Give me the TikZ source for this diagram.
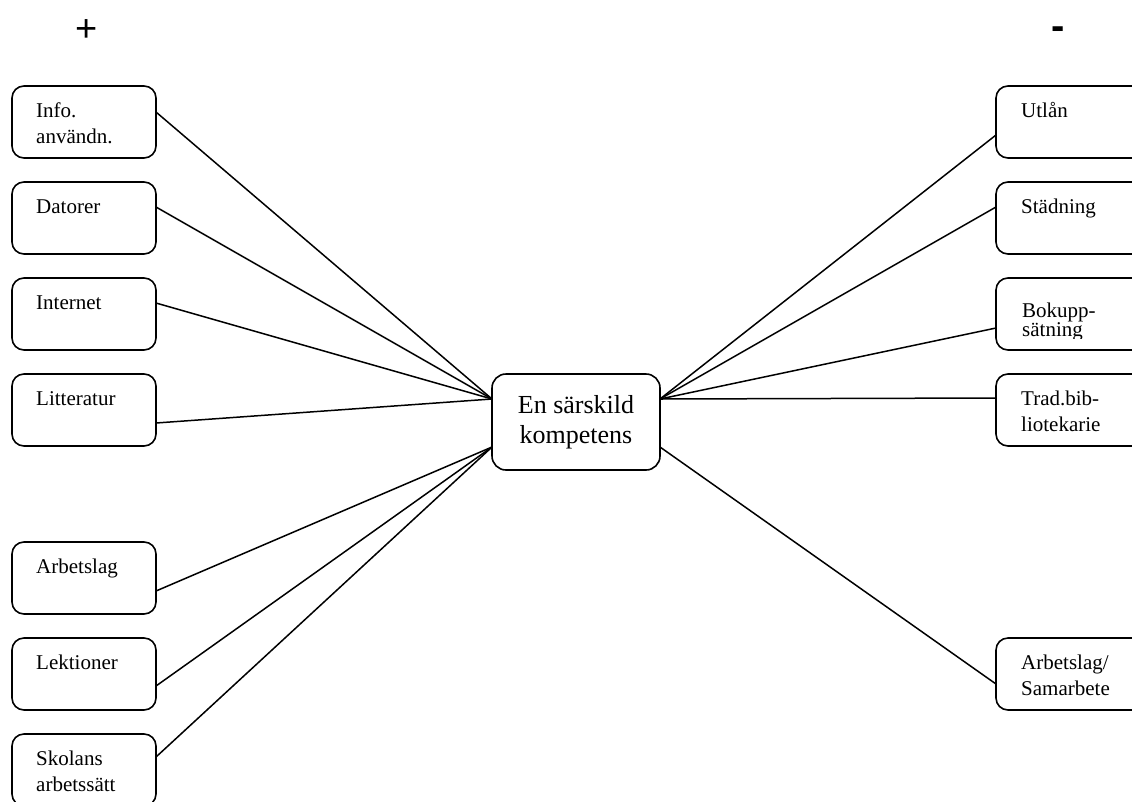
\documentclass[tikz,border=0pt]{standalone}
\usepackage{fontspec}
\setmainfont{Liberation Serif}
\newfontfamily\signfont{Liberation Sans}
\usetikzlibrary{calc}
\begin{document}
\begin{tikzpicture}[x=1pt,y=-1pt,
  box/.style={draw, line width=1.6pt, rounded corners=12pt, minimum width=144pt, minimum height=72pt, inner sep=0pt, outer sep=0pt, anchor=north west},
  rbox/.style={box, minimum width=170pt},
  cbox/.style={draw, line width=1.6pt, rounded corners=14pt, minimum width=168pt, minimum height=96pt, inner sep=0pt, outer sep=0pt, anchor=north west},
  lbl/.style={anchor=base west, inner sep=0pt, align=left, font=\fontsize{21}{26}\selectfont},
  clbl/.style={anchor=base, inner sep=0pt, align=center, font=\fontsize{26}{30}\selectfont},
  conn/.style={line width=1.5pt},
  sign/.style={inner sep=0pt, anchor=base, font=\signfont\fontsize{38}{40}\selectfont}]
\useasboundingbox (0,0) rectangle (1132,801);
% signs
\node[sign] (plus) at (87,41) {+};
\node[sign, font=\signfont\bfseries\fontsize{40}{40}\selectfont] (minus) at (1058,39) {-};
% center
\node[cbox] (c) at (492,374) {};
\node[clbl] (ct) at (576,443) {En särskild\\kompetens};
% left boxes
\node[box] (b1) at (12,86) {};
\node[box] (b2) at (12,182) {};
\node[box] (b3) at (12,278) {};
\node[box] (b4) at (12,374) {};
\node[box] (b5) at (12,542) {};
\node[box] (b6) at (12,638) {};
\node[box] (b7) at (12,734) {};
\node[lbl] (t1) at (36,143) {Info.\\användn.};
\node[lbl] (t2) at (36,213) {Datorer};
\node[lbl] (t3) at (36,309) {Internet};
\node[lbl] (t4) at (36,405) {Litteratur};
\node[lbl] (t5) at (36,573) {Arbetslag};
\node[lbl] (t6) at (36,669) {Lektioner};
\node[lbl] (t7) at (36,791) {Skolans\\arbetssätt};
% right boxes
\node[rbox] (r1) at (996,86) {};
\node[rbox] (r2) at (996,182) {};
\node[rbox] (r3) at (996,278) {};
\node[rbox] (r4) at (996,374) {};
\node[rbox] (r5) at (996,638) {};
\node[lbl] (u1) at (1021,117) {Utlån};
\node[lbl] (u2) at (1021,213) {Städning};
\begin{scope}
\clip (996,278) rectangle (1132,338);
\node[lbl, font=\fontsize{21}{19}\selectfont] (u3) at (1022,336) {Bokupp-\\sätning};
\end{scope}
\node[lbl] (u4) at (1021,431) {Trad.bib-\\liotekarie};
\node[lbl] (u5) at (1021,695) {Arbetslag/\\Samarbete};
% connectors left
\draw[conn] ($(b1.north east)+(0,26)$) -- ($(c.north west)+(0,25)$);
\draw[conn] ($(b2.north east)+(0,25)$) -- ($(c.north west)+(0,25)$);
\draw[conn] ($(b3.north east)+(0,25)$) -- ($(c.north west)+(0,25)$);
\draw[conn] ($(b4.north east)+(0,49)$) -- ($(c.north west)+(0,25)$);
\draw[conn] ($(b5.north east)+(0,49)$) -- ($(c.north west)+(0,73)$);
\draw[conn] ($(b6.north east)+(0,48)$) -- ($(c.north west)+(0,73)$);
\draw[conn] ($(b7.north east)+(0,23)$) -- ($(c.north west)+(0,73)$);
% connectors right
\draw[conn] ($(r1.north west)+(0,49)$) -- ($(c.north east)+(0,25)$);
\draw[conn] ($(r2.north west)+(0,25)$) -- ($(c.north east)+(0,25)$);
\draw[conn] ($(r3.north west)+(0,50)$) -- ($(c.north east)+(0,25)$);
\draw[conn] ($(r4.north west)+(0,24)$) -- ($(c.north east)+(0,25)$);
\draw[conn] ($(r5.north west)+(0,46)$) -- ($(c.north east)+(0,73)$);
\end{tikzpicture}
\end{document}
